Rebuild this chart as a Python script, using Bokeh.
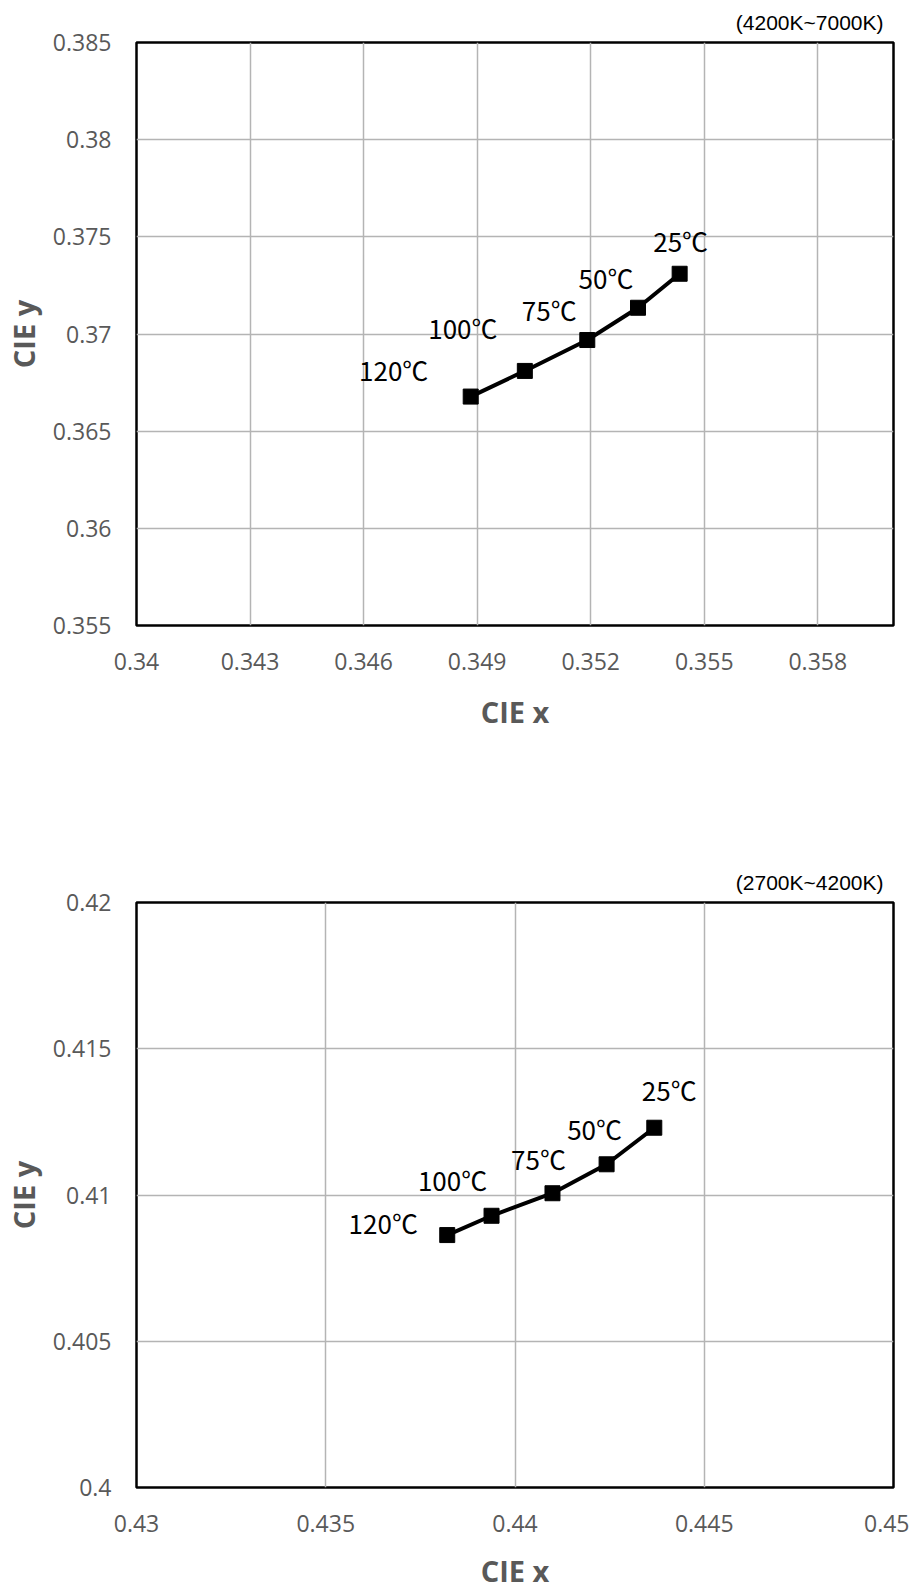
from bokeh.plotting import figure
from bokeh.layouts import column
from bokeh.models import Range1d, FixedTicker, ColumnDataSource
from bokeh.core.properties import value
from bokeh.embed import file_html
from bokeh.resources import INLINE

# ---------------- data ----------------
temps = ["25℃", "50℃", "75℃", "100℃", "120℃"]

top_title = "(4200K~7000K)"
top_x = [0.35435, 0.35325, 0.35191, 0.35026, 0.34883]
top_y = [0.37310, 0.37135, 0.36969, 0.36810, 0.36678]
top_xticks = [0.34, 0.343, 0.346, 0.349, 0.352, 0.355, 0.358]
top_xtick_labels = ["0.34", "0.343", "0.346", "0.349", "0.352", "0.355", "0.358"]
top_yticks = [0.355, 0.36, 0.365, 0.37, 0.375, 0.38, 0.385]
top_ytick_labels = ["0.355", "0.36", "0.365", "0.37", "0.375", "0.38", "0.385"]
top_xrange = (0.34, 0.36)
top_yrange = (0.355, 0.385)

bot_title = "(2700K~4200K)"
bot_x = [0.44368, 0.44242, 0.44099, 0.43938, 0.43821]
bot_y = [0.41230, 0.41105, 0.41006, 0.40929, 0.40863]
bot_xticks = [0.43, 0.435, 0.44, 0.445, 0.45]
bot_xtick_labels = ["0.43", "0.435", "0.44", "0.445", "0.45"]
bot_yticks = [0.4, 0.405, 0.41, 0.415, 0.42]
bot_ytick_labels = ["0.4", "0.405", "0.41", "0.415", "0.42"]
bot_xrange = (0.43, 0.45)
bot_yrange = (0.4, 0.42)

x_label = "CIE x"
y_label = "CIE y"

# ---------------- label placement (screen px) ----------------
top_dx = [1, -32, -38, -62, -77]
top_dy = [-33, -30, -31, -43, -27]
bot_dx = [15, -12, -14, -39, -64]
bot_dy = [-38, -36, -35, -36, -13]

TICK_FONT = "Open Sans"
LABEL_COLOR = "#595959"


def make_chart(title, xs, ys, xticks, xlabels, yticks, ylabels, xr, yr,
               dx, dy, frame_h, border_top, border_bottom, xlabel_standoff):
    p = figure(
        x_range=Range1d(*xr), y_range=Range1d(*yr),
        frame_width=757, frame_height=frame_h,
        min_border_left=130, min_border_right=16,
        min_border_top=border_top, min_border_bottom=border_bottom,
        output_backend="svg", toolbar_location=None,
        background_fill_color="white", border_fill_color="white",
    )
    p.title.text = title
    p.title.align = "right"
    p.title.vertical_align = "middle"
    p.title.text_font = "Liberation Sans"
    p.title.text_font_size = "21px"
    p.title.text_font_style = "normal"
    p.title.text_color = "black"
    p.title.offset = 10
    p.title.standoff = 16

    p.outline_line_color = "black"
    p.outline_line_width = 2.5

    p.xaxis.ticker = FixedTicker(ticks=xticks)
    p.yaxis.ticker = FixedTicker(ticks=yticks)
    p.xaxis.major_label_overrides = {t: l for t, l in zip(xticks, xlabels)}
    p.yaxis.major_label_overrides = {t: l for t, l in zip(yticks, ylabels)}

    for ax in (p.xaxis[0], p.yaxis[0]):
        ax.axis_line_color = None
        ax.major_tick_line_color = None
        ax.minor_tick_line_color = None
        ax.major_tick_out = 0
        ax.major_tick_in = 0
        ax.minor_tick_out = 0
        ax.minor_tick_in = 0
        ax.major_label_text_font = TICK_FONT
        ax.major_label_text_font_size = "23px"
        ax.major_label_text_color = LABEL_COLOR
        ax.axis_label_text_font = TICK_FONT
        ax.axis_label_text_font_size = "29px"
        ax.axis_label_text_font_style = "bold"
        ax.axis_label_text_color = LABEL_COLOR

    p.xaxis.axis_label = x_label
    p.yaxis.axis_label = y_label
    p.xaxis.major_label_standoff = 27
    p.xaxis.axis_label_standoff = xlabel_standoff
    p.yaxis.major_label_standoff = 25
    p.yaxis.axis_label_standoff = 7
    p.yaxis.major_label_orientation = "horizontal"

    p.xgrid.ticker = FixedTicker(ticks=xticks)
    p.ygrid.ticker = FixedTicker(ticks=yticks)
    p.grid.grid_line_color = "#B4B4B4"
    p.grid.grid_line_width = 1.5

    src = ColumnDataSource(dict(x=xs, y=ys, t=temps, dx=dx, dy=dy))
    p.line("x", "y", source=src, line_color="black", line_width=4)
    p.scatter("x", "y", source=src, marker="square", size=15,
              fill_color="black", line_color="black")
    p.text("x", "y", text="t", source=src, x_offset="dx", y_offset="dy",
           text_align="center", text_baseline="middle",
           text_font=value("Noto Sans CJK KR"), text_font_size="26px",
           text_color="black")
    return p


p1 = make_chart(top_title, top_x, top_y, top_xticks, top_xtick_labels,
                top_yticks, top_ytick_labels, top_xrange, top_yrange,
                top_dx, top_dy, 583, 42, 234, 19)
p2 = make_chart(bot_title, bot_x, bot_y, bot_xticks, bot_xtick_labels,
                bot_yticks, bot_ytick_labels, bot_xrange, bot_yrange,
                bot_dx, bot_dy, 585, 43, 95, 16)

layout = column(p1, p2, spacing=0)
open("out.html", "w").write(file_html(layout, INLINE))
